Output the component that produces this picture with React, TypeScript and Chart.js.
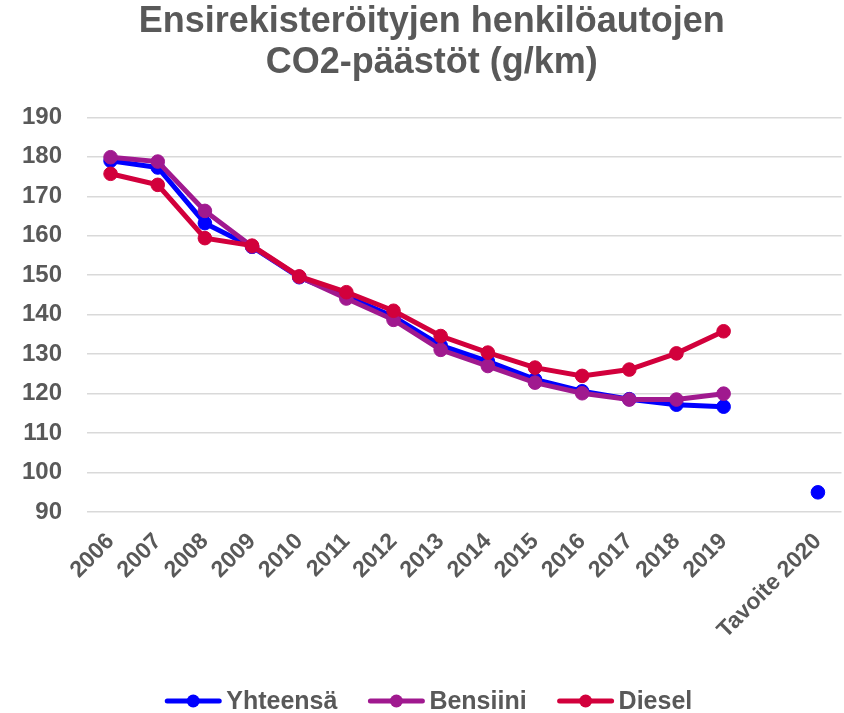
import React, { useEffect, useRef } from 'react';
import { Chart, registerables } from 'chart.js';

Chart.register(...registerables);

const titleLines = ['Ensirekisteröityjen henkilöautojen', 'CO2-päästöt (g/km)'];
const categories = ['2006', '2007', '2008', '2009', '2010', '2011', '2012', '2013', '2014', '2015', '2016', '2017', '2018', '2019', '', 'Tavoite 2020'];
const yhteensa = [179.0, 177.3, 163.2, 157.2, 149.5, 144.7, 139.5, 132.2, 128.2, 123.6, 120.6, 118.6, 117.2, 116.7, null, 95.0];
const bensiini = [179.9, 178.8, 166.3, 157.3, 149.6, 144.1, 138.7, 131.1, 127.0, 122.8, 120.1, 118.5, 118.5, 120.0, null, null];
const diesel = [175.7, 172.9, 159.4, 157.5, 149.7, 145.7, 141.0, 134.6, 130.4, 126.6, 124.5, 126.1, 130.2, 135.8, null, null];
const seriesNames = ['Yhteensä', 'Bensiini', 'Diesel'];
const seriesColors = ['#0000FF', '#A0198F', '#D2003C'];
const yMin = 90;
const yMax = 190;
const yStep = 10;

const FONT = '"Liberation Sans", Arial, sans-serif';
const GRAY = '#595959';

const lineLegendPlugin = {
  id: 'lineLegend',
  afterDraw(chart: any) {
    const ctx = chart.ctx as CanvasRenderingContext2D;
    ctx.save();
    ctx.font = `bold 25px ${FONT}`;
    const items = chart.data.datasets.map((ds: any) => ({ text: ds.label, color: ds.borderColor }));
    const lineLen = 56;
    const gap = 5;
    const itemGap = 31;
    const widths = items.map((it: any) => lineLen + gap + ctx.measureText(it.text).width);
    const total = widths.reduce((a: number, b: number) => a + b, 0) + itemGap * (items.length - 1);
    let x = chart.width * 0.508 - total / 2;
    const y = chart.height - 12;
    items.forEach((it: any, i: number) => {
      ctx.strokeStyle = it.color;
      ctx.lineWidth = 5;
      ctx.lineCap = 'round';
      ctx.beginPath();
      ctx.moveTo(x + 2, y);
      ctx.lineTo(x + lineLen - 2, y);
      ctx.stroke();
      ctx.fillStyle = it.color;
      ctx.beginPath();
      ctx.arc(x + lineLen / 2, y, 6.5, 0, Math.PI * 2);
      ctx.fill();
      ctx.fillStyle = GRAY;
      ctx.textBaseline = 'middle';
      ctx.textAlign = 'left';
      ctx.fillText(it.text, x + lineLen + gap, y + 1);
      x += widths[i] + itemGap;
    });
    ctx.restore();
  },
};

export default function App() {
  const canvasRef = useRef<HTMLCanvasElement | null>(null);

  useEffect(() => {
    document.body.style.margin = '0';
    const canvas = canvasRef.current;
    if (!canvas) return;
    const seriesData = [yhteensa, bensiini, diesel];
    const chart = new Chart(canvas, {
      type: 'line',
      data: {
        labels: categories,
        datasets: seriesNames.map((name, i) => ({
          label: name,
          data: seriesData[i],
          borderColor: seriesColors[i],
          backgroundColor: seriesColors[i],
          pointBackgroundColor: seriesColors[i],
          pointBorderColor: seriesColors[i],
          borderWidth: 5,
          pointRadius: 6.8,
          pointHoverRadius: 6.8,
          pointBorderWidth: 1,
          spanGaps: false,
          tension: 0,
          order: 3 - i,
        })),
      },
      options: {
        responsive: false,
        animation: false,
        layout: { autoPadding: false, padding: { left: 22, right: 2.5, top: 0, bottom: 53 } },
        plugins: {
          legend: { display: false },
          tooltip: { enabled: false },
          title: {
            display: true,
            text: titleLines,
            color: GRAY,
            font: { family: FONT, size: 36, weight: 'bold', lineHeight: 1.13 },
            padding: { top: 2, bottom: 34 },
          },
        },
        scales: {
          x: {
            type: 'category',
            offset: true,
            grid: { display: false, drawTicks: false },
            border: { display: false },
            afterFit(scale: any) {
              scale.paddingLeft = 0;
              scale.paddingRight = 0;
            },
            ticks: {
              autoSkip: false,
              maxRotation: 45,
              minRotation: 45,
              padding: 16,
              color: GRAY,
              font: { family: FONT, size: 23, weight: 'bold' },
            },
          },
          y: {
            min: yMin,
            max: yMax,
            grid: { color: '#D9D9D9', lineWidth: 1.5, drawTicks: false },
            border: { display: false },
            afterFit(scale: any) {
              scale.width = 65;
            },
            ticks: {
              stepSize: yStep,
              padding: 25,
              color: GRAY,
              font: { family: FONT, size: 24, weight: 'bold' },
            },
          },
        },
      },
      plugins: [lineLegendPlugin],
    });
    return () => chart.destroy();
  }, []);

  return (
    <div style={{ width: 844, height: 713 }}>
      <canvas ref={canvasRef} width={844} height={713} />
    </div>
  );
}
